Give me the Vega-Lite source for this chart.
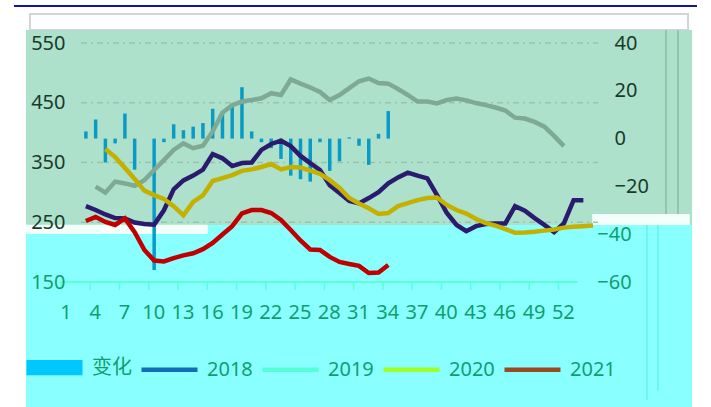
{
  "$schema": "https://vega.github.io/schema/vega-lite/v6.json",
  "width": 517,
  "height": 239,
  "autosize": {"type": "none"},
  "padding": {"left": 81, "top": 43, "right": 113, "bottom": 125},
  "background": "white",
  "config": {"view": {"stroke": null}, "font": "Noto Sans", "scale": {"continuousPadding": 0}},
  "datasets": {
    "grid": [{"g": 250}, {"g": 350}, {"g": 450}, {"g": 550}],
    "xticks": [{"week": 1}, {"week": 4}, {"week": 7}, {"week": 10}, {"week": 13}, {"week": 16}, {"week": 19}, {"week": 22}, {"week": 25},
               {"week": 28}, {"week": 31}, {"week": 34}, {"week": 37}, {"week": 40}, {"week": 43}, {"week": 46}, {"week": 49}, {"week": 52}],
    "bars": [
      {"week": 1, "change": 3}, {"week": 2, "change": 8}, {"week": 3, "change": -10}, {"week": 4, "change": -2},
      {"week": 5, "change": 10.5}, {"week": 6, "change": -13}, {"week": 7, "change": 0}, {"week": 8, "change": -55},
      {"week": 9, "change": -1.5}, {"week": 10, "change": 6}, {"week": 11, "change": 3.5}, {"week": 12, "change": 5},
      {"week": 13, "change": 6.5}, {"week": 14, "change": 12.5}, {"week": 15, "change": 11.5}, {"week": 16, "change": 14.5},
      {"week": 17, "change": 21.5}, {"week": 18, "change": 3}, {"week": 19, "change": -1.5}, {"week": 20, "change": -4},
      {"week": 21, "change": -8.5}, {"week": 22, "change": -15.5}, {"week": 23, "change": -17}, {"week": 24, "change": -18},
      {"week": 25, "change": -1.5}, {"week": 26, "change": -13.5}, {"week": 27, "change": -9.5}, {"week": 28, "change": 0.5},
      {"week": 29, "change": -3}, {"week": 30, "change": -11}, {"week": 31, "change": 2}, {"week": 32, "change": 11.5}
    ],
    "lines": [
      {"year": "2018", "week": 1, "value": 277}, {"year": "2018", "week": 2, "value": 270.5}, {"year": "2018", "week": 3, "value": 263},
      {"year": "2018", "week": 4, "value": 257}, {"year": "2018", "week": 5, "value": 256.5}, {"year": "2018", "week": 6, "value": 249.5},
      {"year": "2018", "week": 7, "value": 247}, {"year": "2018", "week": 8, "value": 246}, {"year": "2018", "week": 9, "value": 270},
      {"year": "2018", "week": 10, "value": 305}, {"year": "2018", "week": 11, "value": 320}, {"year": "2018", "week": 12, "value": 328},
      {"year": "2018", "week": 13, "value": 338}, {"year": "2018", "week": 14, "value": 364}, {"year": "2018", "week": 15, "value": 357},
      {"year": "2018", "week": 16, "value": 344}, {"year": "2018", "week": 17, "value": 349}, {"year": "2018", "week": 18, "value": 350},
      {"year": "2018", "week": 19, "value": 371}, {"year": "2018", "week": 20, "value": 381}, {"year": "2018", "week": 21, "value": 386.5},
      {"year": "2018", "week": 22, "value": 377.5}, {"year": "2018", "week": 23, "value": 361}, {"year": "2018", "week": 24, "value": 349},
      {"year": "2018", "week": 25, "value": 337.5}, {"year": "2018", "week": 26, "value": 312}, {"year": "2018", "week": 27, "value": 299},
      {"year": "2018", "week": 28, "value": 285.5}, {"year": "2018", "week": 29, "value": 281.5}, {"year": "2018", "week": 30, "value": 290.5},
      {"year": "2018", "week": 31, "value": 300.5}, {"year": "2018", "week": 32, "value": 315}, {"year": "2018", "week": 33, "value": 325},
      {"year": "2018", "week": 34, "value": 333}, {"year": "2018", "week": 35, "value": 328}, {"year": "2018", "week": 36, "value": 323.5},
      {"year": "2018", "week": 37, "value": 295.5}, {"year": "2018", "week": 38, "value": 265.5}, {"year": "2018", "week": 39, "value": 245.5},
      {"year": "2018", "week": 40, "value": 235}, {"year": "2018", "week": 41, "value": 243.5}, {"year": "2018", "week": 42, "value": 247},
      {"year": "2018", "week": 43, "value": 248}, {"year": "2018", "week": 44, "value": 248}, {"year": "2018", "week": 45, "value": 277},
      {"year": "2018", "week": 46, "value": 269.5}, {"year": "2018", "week": 47, "value": 257}, {"year": "2018", "week": 48, "value": 245.5},
      {"year": "2018", "week": 49, "value": 233.5}, {"year": "2018", "week": 50, "value": 248}, {"year": "2018", "week": 51, "value": 287},
      {"year": "2018", "week": 52, "value": 287},
      {"year": "2019", "week": 2, "value": 309.5}, {"year": "2019", "week": 3, "value": 299.5}, {"year": "2019", "week": 4, "value": 318},
      {"year": "2019", "week": 5, "value": 315}, {"year": "2019", "week": 6, "value": 311}, {"year": "2019", "week": 7, "value": 320.5},
      {"year": "2019", "week": 8, "value": 337.5}, {"year": "2019", "week": 9, "value": 354}, {"year": "2019", "week": 10, "value": 371},
      {"year": "2019", "week": 11, "value": 382}, {"year": "2019", "week": 12, "value": 374}, {"year": "2019", "week": 13, "value": 378},
      {"year": "2019", "week": 14, "value": 402}, {"year": "2019", "week": 15, "value": 433.5}, {"year": "2019", "week": 16, "value": 446},
      {"year": "2019", "week": 17, "value": 452}, {"year": "2019", "week": 18, "value": 454.5}, {"year": "2019", "week": 19, "value": 457.5},
      {"year": "2019", "week": 20, "value": 466}, {"year": "2019", "week": 21, "value": 463}, {"year": "2019", "week": 22, "value": 489},
      {"year": "2019", "week": 23, "value": 482}, {"year": "2019", "week": 24, "value": 475.5}, {"year": "2019", "week": 25, "value": 468},
      {"year": "2019", "week": 26, "value": 454.5}, {"year": "2019", "week": 27, "value": 463}, {"year": "2019", "week": 28, "value": 474.5},
      {"year": "2019", "week": 29, "value": 486}, {"year": "2019", "week": 30, "value": 490.5}, {"year": "2019", "week": 31, "value": 483},
      {"year": "2019", "week": 32, "value": 482}, {"year": "2019", "week": 33, "value": 473}, {"year": "2019", "week": 34, "value": 463},
      {"year": "2019", "week": 35, "value": 452}, {"year": "2019", "week": 36, "value": 452}, {"year": "2019", "week": 37, "value": 449},
      {"year": "2019", "week": 38, "value": 454.5}, {"year": "2019", "week": 39, "value": 457}, {"year": "2019", "week": 40, "value": 454},
      {"year": "2019", "week": 41, "value": 449.5}, {"year": "2019", "week": 42, "value": 446}, {"year": "2019", "week": 43, "value": 442},
      {"year": "2019", "week": 44, "value": 437}, {"year": "2019", "week": 45, "value": 425}, {"year": "2019", "week": 46, "value": 423.5},
      {"year": "2019", "week": 47, "value": 418}, {"year": "2019", "week": 48, "value": 410}, {"year": "2019", "week": 49, "value": 394.5},
      {"year": "2019", "week": 50, "value": 377.5},
      {"year": "2020", "week": 3, "value": 372.5}, {"year": "2020", "week": 4, "value": 359}, {"year": "2020", "week": 5, "value": 341},
      {"year": "2020", "week": 6, "value": 322.5}, {"year": "2020", "week": 7, "value": 303}, {"year": "2020", "week": 8, "value": 295.5},
      {"year": "2020", "week": 9, "value": 289}, {"year": "2020", "week": 10, "value": 277}, {"year": "2020", "week": 11, "value": 261.5},
      {"year": "2020", "week": 12, "value": 284}, {"year": "2020", "week": 13, "value": 295}, {"year": "2020", "week": 14, "value": 319},
      {"year": "2020", "week": 15, "value": 324}, {"year": "2020", "week": 16, "value": 329}, {"year": "2020", "week": 17, "value": 336},
      {"year": "2020", "week": 18, "value": 338.5}, {"year": "2020", "week": 19, "value": 342.5}, {"year": "2020", "week": 20, "value": 347.5},
      {"year": "2020", "week": 21, "value": 338.5}, {"year": "2020", "week": 22, "value": 342.5}, {"year": "2020", "week": 23, "value": 341.5},
      {"year": "2020", "week": 24, "value": 336.5}, {"year": "2020", "week": 25, "value": 331}, {"year": "2020", "week": 26, "value": 320.5},
      {"year": "2020", "week": 27, "value": 307.5}, {"year": "2020", "week": 28, "value": 290.5}, {"year": "2020", "week": 29, "value": 281.5},
      {"year": "2020", "week": 30, "value": 273.5}, {"year": "2020", "week": 31, "value": 264}, {"year": "2020", "week": 32, "value": 265.5},
      {"year": "2020", "week": 33, "value": 277}, {"year": "2020", "week": 34, "value": 282}, {"year": "2020", "week": 35, "value": 287},
      {"year": "2020", "week": 36, "value": 290.5}, {"year": "2020", "week": 37, "value": 291.5}, {"year": "2020", "week": 38, "value": 279},
      {"year": "2020", "week": 39, "value": 270.5}, {"year": "2020", "week": 40, "value": 264.5}, {"year": "2020", "week": 41, "value": 255.5},
      {"year": "2020", "week": 42, "value": 248.5}, {"year": "2020", "week": 43, "value": 244.5}, {"year": "2020", "week": 44, "value": 238.5},
      {"year": "2020", "week": 45, "value": 232.5}, {"year": "2020", "week": 46, "value": 233}, {"year": "2020", "week": 47, "value": 234},
      {"year": "2020", "week": 48, "value": 236}, {"year": "2020", "week": 49, "value": 238}, {"year": "2020", "week": 50, "value": 241},
      {"year": "2020", "week": 51, "value": 242.5}, {"year": "2020", "week": 52, "value": 243.5}, {"year": "2020", "week": 53, "value": 244.5},
      {"year": "2021", "week": 1, "value": 252}, {"year": "2021", "week": 2, "value": 259}, {"year": "2021", "week": 3, "value": 250.5},
      {"year": "2021", "week": 4, "value": 245.5}, {"year": "2021", "week": 5, "value": 256.5}, {"year": "2021", "week": 6, "value": 233.5},
      {"year": "2021", "week": 7, "value": 203.5}, {"year": "2021", "week": 8, "value": 186}, {"year": "2021", "week": 9, "value": 184.5},
      {"year": "2021", "week": 10, "value": 190}, {"year": "2021", "week": 11, "value": 194.5}, {"year": "2021", "week": 12, "value": 198},
      {"year": "2021", "week": 13, "value": 205}, {"year": "2021", "week": 14, "value": 215.5}, {"year": "2021", "week": 15, "value": 229.5},
      {"year": "2021", "week": 16, "value": 243.5}, {"year": "2021", "week": 17, "value": 265}, {"year": "2021", "week": 18, "value": 270.5},
      {"year": "2021", "week": 19, "value": 270.5}, {"year": "2021", "week": 20, "value": 265.5}, {"year": "2021", "week": 21, "value": 254},
      {"year": "2021", "week": 22, "value": 237}, {"year": "2021", "week": 23, "value": 219.5}, {"year": "2021", "week": 24, "value": 204.5},
      {"year": "2021", "week": 25, "value": 203.5}, {"year": "2021", "week": 26, "value": 192}, {"year": "2021", "week": 27, "value": 183.5},
      {"year": "2021", "week": 28, "value": 180}, {"year": "2021", "week": 29, "value": 177}, {"year": "2021", "week": 30, "value": 165},
      {"year": "2021", "week": 31, "value": 166}, {"year": "2021", "week": 32, "value": 178.5}
    ]
  },
  "layer": [
    {
      "layer": [
        {
          "data": {"values": [{}]},
          "mark": {"type": "rule", "color": "#1414A8", "strokeWidth": 2},
          "encoding": {
            "x": {"datum": -6.37, "type": "quantitative", "scale": {"domain": [0.5, 53.5], "nice": false, "zero": false, "padding": 0}, "axis": null},
            "x2": {"datum": 63.65},
            "y": {"datum": 611.9, "type": "quantitative", "scale": {"domain": [150, 550], "nice": false, "zero": false, "padding": 0}, "axis": null}
          }
        },
        {
          "data": {"values": [{}]},
          "mark": {"type": "rect", "fill": "white", "stroke": "#D4D4D4", "strokeWidth": 2},
          "encoding": {
            "x": {"datum": -4.73, "type": "quantitative", "axis": null},
            "x2": {"datum": 62.73},
            "y": {"datum": 571.8, "type": "quantitative", "axis": null},
            "y2": {"datum": 598.5}
          }
        },
        {
          "data": {"values": [{}]},
          "mark": {"type": "rect", "fill": "#AEE1CB"},
          "encoding": {
            "x": {"datum": -5.14, "type": "quantitative", "axis": null},
            "x2": {"datum": 63.14},
            "y": {"datum": 245.4, "type": "quantitative", "axis": null},
            "y2": {"datum": 571.8}
          }
        },
        {
          "data": {"values": [{}]},
          "mark": {"type": "rect", "fill": "#89FFFF"},
          "encoding": {
            "x": {"datum": -5.14, "type": "quantitative", "axis": null},
            "x2": {"datum": 63.14},
            "y": {"datum": -59.2, "type": "quantitative", "axis": null},
            "y2": {"datum": 245.4}
          }
        },
        {
          "data": {"values": [{}]},
          "mark": {"type": "rule", "color": "#8DBBA5", "strokeWidth": 1.5},
          "encoding": {
            "x": {"datum": 60.47, "type": "quantitative", "axis": null},
            "y": {"datum": 263.8, "type": "quantitative", "axis": null},
            "y2": {"datum": 571.8}
          }
        },
        {
          "data": {"values": [{}]},
          "mark": {"type": "rule", "color": "#8DBBA5", "strokeWidth": 1.5},
          "encoding": {
            "x": {"datum": 61.7, "type": "quantitative", "axis": null},
            "y": {"datum": 263.8, "type": "quantitative", "axis": null},
            "y2": {"datum": 571.8}
          }
        },
        {
          "data": {"values": [{}]},
          "mark": {"type": "rule", "color": "#66F5E6", "strokeWidth": 1.5},
          "encoding": {
            "x": {"datum": 58.52, "type": "quantitative", "axis": null},
            "y": {"datum": -47.5, "type": "quantitative", "axis": null},
            "y2": {"datum": 245.4}
          }
        },
        {
          "data": {"values": [{}]},
          "mark": {"type": "rule", "color": "#66F5E6", "strokeWidth": 1.5},
          "encoding": {
            "x": {"datum": 59.65, "type": "quantitative", "axis": null},
            "y": {"datum": -32, "type": "quantitative", "axis": null},
            "y2": {"datum": 245.4}
          }
        },
        {
          "data": {"values": [{}]},
          "mark": {"type": "rect", "fill": "#F2FFFA"},
          "encoding": {
            "x": {"datum": -5.14, "type": "quantitative", "axis": null},
            "x2": {"datum": 13.5},
            "y": {"datum": 230.5, "type": "quantitative", "axis": null},
            "y2": {"datum": 246}
          }
        },
        {
          "data": {"values": [{}]},
          "mark": {"type": "rect", "fill": "#F2FFFA"},
          "encoding": {
            "x": {"datum": 52.9, "type": "quantitative", "axis": null},
            "x2": {"datum": 62.9},
            "y": {"datum": 245.4, "type": "quantitative", "axis": null},
            "y2": {"datum": 263.8}
          }
        },
        {
          "data": {"values": [{}]},
          "mark": {"type": "rule", "color": "#5CFFD6", "strokeWidth": 2},
          "encoding": {
            "x": {"datum": -1.55, "type": "quantitative", "axis": null},
            "x2": {"datum": 51.45},
            "y": {"datum": 150, "type": "quantitative", "axis": null}
          }
        },
        {
          "data": {"name": "xticks"},
          "mark": {"type": "rule", "color": "#5CFFD6", "strokeWidth": 1.5, "xOffset": -24.88},
          "encoding": {
            "x": {"field": "week", "type": "quantitative", "axis": null},
            "y": {"datum": 150, "type": "quantitative", "axis": null},
            "y2": {"datum": 136.6}
          }
        },
        {
          "data": {"name": "xticks"},
          "mark": {"type": "text", "color": "#0E9F6E", "fontSize": 20, "font": "Noto Sans", "baseline": "middle", "align": "center", "dx": -20, "dy": 31},
          "encoding": {
            "x": {"field": "week", "type": "quantitative", "axis": null},
            "y": {"datum": 150, "type": "quantitative", "axis": null},
            "text": {"field": "week", "type": "quantitative"}
          }
        },
        {
          "data": {"name": "grid"},
          "mark": {"type": "rule", "color": "#96C5AF", "strokeWidth": 1.5, "strokeDash": [6, 4, 2, 4]},
          "encoding": {
            "x": {"datum": 0.5, "type": "quantitative", "axis": null},
            "x2": {"datum": 53.5},
            "y": {"field": "g", "type": "quantitative", "axis": null}
          }
        }
      ]
    },
    {
      "data": {"name": "bars"},
      "mark": {"type": "bar", "size": 3.5},
      "encoding": {
        "x": {"field": "week", "type": "quantitative", "scale": {"domain": [0.5, 53.5], "nice": false, "zero": false, "padding": 0}, "axis": null},
        "y": {
          "field": "change", "type": "quantitative",
          "scale": {"domain": [-60, 40], "nice": false, "zero": false, "padding": 0},
          "axis": {
            "orient": "right", "title": null, "domain": false, "grid": false, "ticks": false, "tickSize": 0, "zindex": 1,
            "values": [-60, -40, -20, 0, 20, 40],
            "labelPadding": 16, "labelFontSize": 20, "labelFont": "Noto Sans",
            "labelAlign": {"condition": {"test": "datum.value < -30", "value": "center"}, "value": "left"},
            "labelColor": {"condition": {"test": "datum.value < -30", "value": "#0E9F6E"}, "value": "#1A3A2A"}
          }
        },
        "y2": {"datum": 0},
        "fill": {"datum": "变化", "type": "nominal", "scale": {"domain": ["变化"], "range": ["#0A9AC6"]}, "legend": null}
      }
    },
    {
      "data": {"name": "lines"},
      "mark": {"type": "line", "strokeWidth": 4.5, "strokeJoin": "miter"},
      "encoding": {
        "x": {"field": "week", "type": "quantitative", "scale": {"domain": [0.5, 53.5], "nice": false, "zero": false, "padding": 0}, "axis": null},
        "y": {
          "field": "value", "type": "quantitative",
          "scale": {"domain": [150, 550], "nice": false, "zero": false, "padding": 0},
          "axis": {
            "orient": "left", "title": null, "domain": false, "ticks": false, "tickSize": 0, "grid": false, "zindex": 1,
            "values": [150, 250, 350, 450, 550],
            "labelPadding": 16, "labelFontSize": 20, "labelFont": "Noto Sans",
            "labelColor": {"condition": {"test": "datum.value < 200", "value": "#0E9F6E"}, "value": "#1A3A2A"}
          }
        },
        "stroke": {"field": "year", "type": "nominal", "scale": {"domain": ["2018", "2019", "2020", "2021"], "range": ["#2A1B6F", "#7DA995", "#C4B000", "#C00000"]}, "legend": null}
      }
    },
    {
      "data": {"values": []},
      "mark": {"type": "line", "strokeWidth": 4.5},
      "encoding": {
        "x": {"field": "week", "type": "quantitative", "axis": null},
        "y": {"field": "value", "type": "quantitative", "scale": {"domain": [150, 550]}, "axis": null},
        "color": {
          "field": "year", "type": "nominal",
          "scale": {"domain": ["变化", "2018", "2019", "2020", "2021"], "range": ["#00C8FF", "#146EB4", "#55FFD5", "#A0FF28", "#9A4A1E"]},
          "legend": {
            "orient": "none", "legendX": -57, "legendY": 294, "direction": "horizontal",
            "title": null, "symbolType": "stroke", "symbolSize": 3136, "symbolStrokeWidth": 4.5,
            "labelFont": "'Noto Sans', 'Noto Sans CJK SC'", "labelFontSize": 20, "labelColor": "#0E9F6E",
            "labelOffset": 7, "columnPadding": 0, "padding": 0,
            "encode": {
              "symbols": {
                "update": {
                  "shape": {"signal": "datum.value === '变化' ? 'M-1,-0.19H1M-1,-0.095H1M-1,0H1M-1,0.095H1M-1,0.19H1' : 'stroke'"}
                }
              }
            }
          }
        }
      }
    }
  ],
  "resolve": {"scale": {"y": "independent"}}
}
